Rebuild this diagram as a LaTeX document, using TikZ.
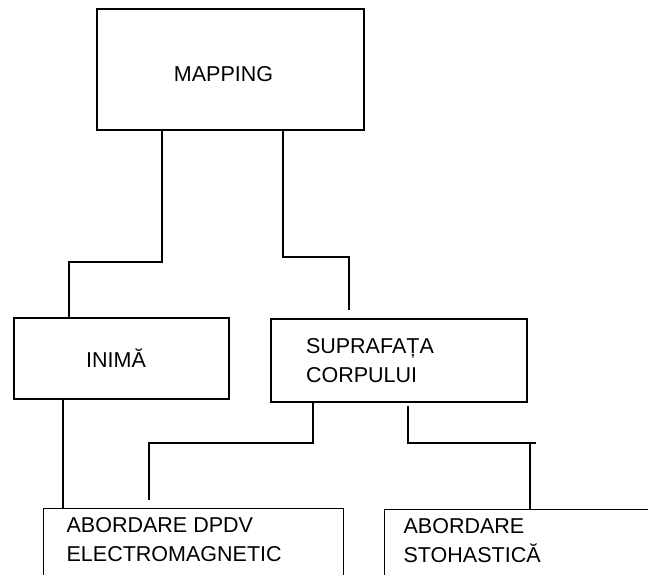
\documentclass[tikz,border=0pt]{standalone}
\usepackage{fontspec}
\setmainfont{Liberation Sans}
\usetikzlibrary{positioning}
\tikzstyle{box}=[draw,rectangle,line width=1.3pt,inner sep=0pt]
\tikzstyle{link}=[line width=1.3pt]
\tikzstyle{lowbox}=[box,anchor=north west,inner ysep=9pt]

\begin{document}
\begin{tikzpicture}[x=1pt, y=-1pt, font=\fontsize{21.5}{29}\selectfont]
  \fill[white] (0,0) rectangle (648,574);
  \clip (0,0) rectangle (648,574);

  \node[box, minimum width=267pt, minimum height=121pt, text height=23pt, text depth=0pt]
    (map) at (230.5,69.5) {\hspace*{-14pt}MAPPING};
  \node[box, minimum width=215pt, minimum height=81pt]
    (inima) at (121.5,358.5) {\hspace*{-11pt}INIMĂ};
  \node[box, minimum width=256pt, minimum height=83pt, align=left,
        text width=186pt, inner xsep=35pt]
    (supr) at (399,360.5) {SUPRAFAȚA\\CORPULUI};
  \node[lowbox, inner xsep=23pt] (absp) at (43,508)
    {\parbox[t][100pt][t]{254pt}{ABORDARE DPDV\\ELECTROMAGNETIC}};
  \node[lowbox, inner xsep=19pt] (abst) at (384,509)
    {\parbox[t][100pt][t]{300pt}{ABORDARE\\STOHASTICĂ}};

  % free ends that stop short of the boxes
  \coordinate (endsupr) at (349,310);
  \coordinate (endabsp) at (149,500);

  \draw[link] (map.south -| 162,0) -- (162,262) -| (inima.north -| 69,0);
  \draw[link] (map.south -| 283,0) -- (283,257) -| (endsupr);
  \draw[link] (inima.south -| 63,0) -- (absp.north -| 63,0);
  \draw[link] (supr.south -| 313,0) -- (313,443) -| (endabsp);
  \draw[link] (408,406) -- (408,443) -- (536,443);
  \draw[link] (530,443) -- (abst.north -| 530,0);
\end{tikzpicture}
\end{document}
